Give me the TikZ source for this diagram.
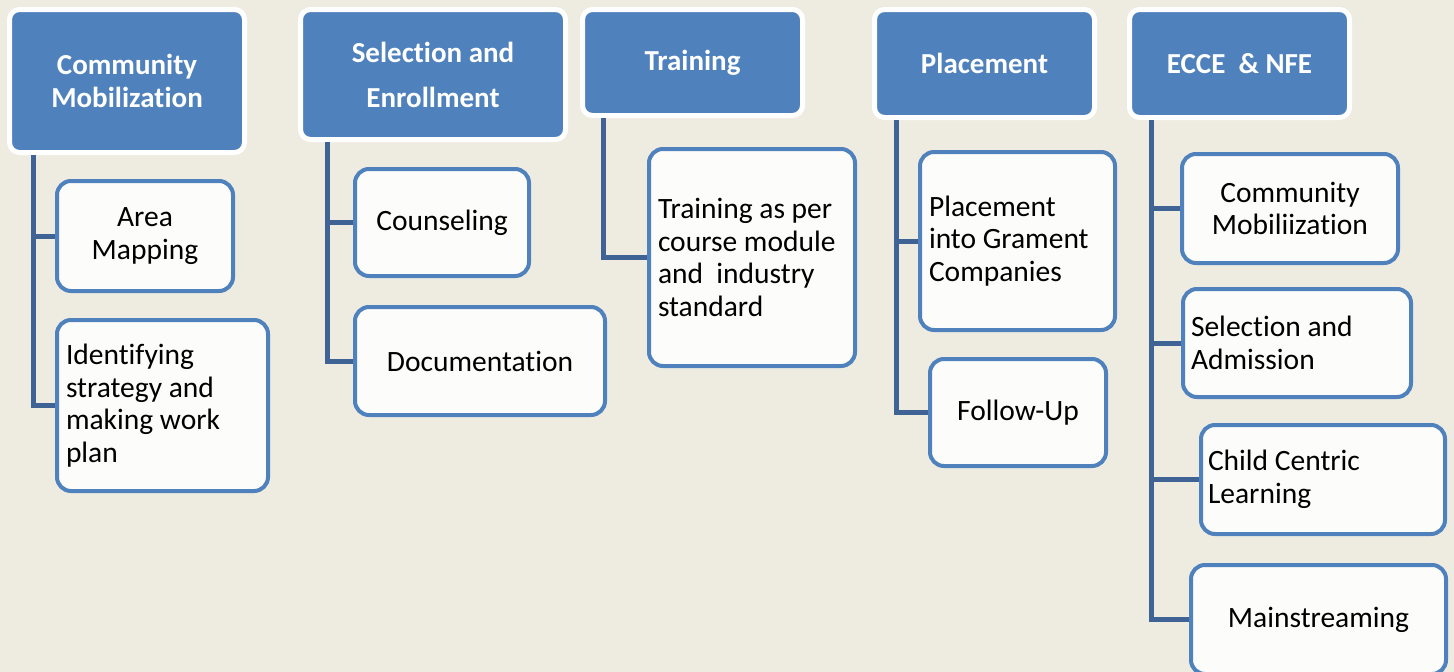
\documentclass[tikz,border=0pt]{standalone}
\usepackage{fontspec}
\setmainfont{Carlito}[RawFeature={-liga;-clig;-calt;-dlig}]

\definecolor{paper}{RGB}{238,236,225}
\definecolor{hdrblue}{RGB}{79,129,189}
\definecolor{linkblue}{RGB}{62,99,148}
\definecolor{boxwhite}{RGB}{252,252,250}

\begin{document}
\begin{tikzpicture}[x=1pt, y=-1pt,
  hdr/.style={draw=white, line width=5pt, fill=hdrblue, rounded corners=10pt,
    text=white, font=\fontsize{29}{33}\selectfont\bfseries, align=center, inner sep=0pt},
  item/.style={draw=hdrblue, line width=4pt, fill=boxwhite, rounded corners=14pt,
    font=\fontsize{29.5}{32.5}\selectfont, inner sep=0pt},
  ctr/.style={item, align=center},
  lft/.style={item, align=flush left, inner xsep=9pt},
  conn/.style={draw=linkblue, line width=5pt}]

  % Page size
  \def\W{1454}
  \def\H{672}
  \useasboundingbox (0,0) rectangle (\W,\H);
  \clip (0,0) rectangle (\W,\H);
  \fill[paper] (0,0) rectangle (\W,\H);

  % Header boxes
  \node[hdr, minimum width=235, minimum height=143] (cm) at (127,81) {Community\\Mobilization};
  \node[hdr, minimum width=265, minimum height=130] (se) at (433,74.5) {Selection and\\[12pt]Enrollment};
  \node[hdr, minimum width=220, minimum height=106] (tr) at (692.5,62.5) {Training};
  \node[hdr, minimum width=220, minimum height=108] (pl) at (984.5,63.5) {Placement};
  \node[hdr, minimum width=220, minimum height=108] (ec) at (1239.5,63.5) {ECCE\ \ \& NFE};

  % Community Mobilization
  \node[ctr, minimum width=176, minimum height=110] (am) at (145,236) {Area\\Mapping};
  \node[lft, text width=193, minimum height=171] (iw) at (162.5,405.5) {Identifying\\strategy and\\making work\\plan};

  % Selection and Enrollment
  \node[ctr, minimum width=174, minimum height=107] (co) at (442,222.5) {Counseling};
  \node[ctr, minimum width=250, minimum height=108] (do) at (480,361) {Documentation};

  % Training
  \node[lft, text width=188, minimum height=217] (tc) at (752,257.5) {Training as per\\course module\\and\ \ industry\\standard};

  % Placement
  \node[lft, text width=177, minimum height=178] (pg) at (1017.5,241) {Placement\\into Grament\\Companies};
  \node[ctr, minimum width=176, minimum height=107] (fu) at (1018,412.5) {Follow-Up};

  % ECCE & NFE
  \node[ctr, minimum width=216, minimum height=109] (ecm) at (1290,208.5) {Community\\Mobiliization};
  \node[lft, inner xsep=8pt, text width=212, minimum height=108] (sa) at (1297,343) {Selection and\\Admission};
  \node[lft, inner xsep=7pt, text width=230, minimum height=109] (cc) at (1323,479.5) {Child Centric\\Learning};
  \node[ctr, minimum width=255, minimum height=109] (ms) at (1318.5,619.5) {Mainstreaming};

  % Connectors
  \foreach \p/\c/\d in {cm/am/26, cm/iw/26, se/co/29, se/do/29, tr/tc/23,
                        pl/pg/24, pl/fu/24, ec/ecm/24, ec/sa/24, ec/cc/24, ec/ms/24}
    \draw[conn] ([xshift=\d]\p.south west) |- (\c.west);

\end{tikzpicture}
\end{document}
